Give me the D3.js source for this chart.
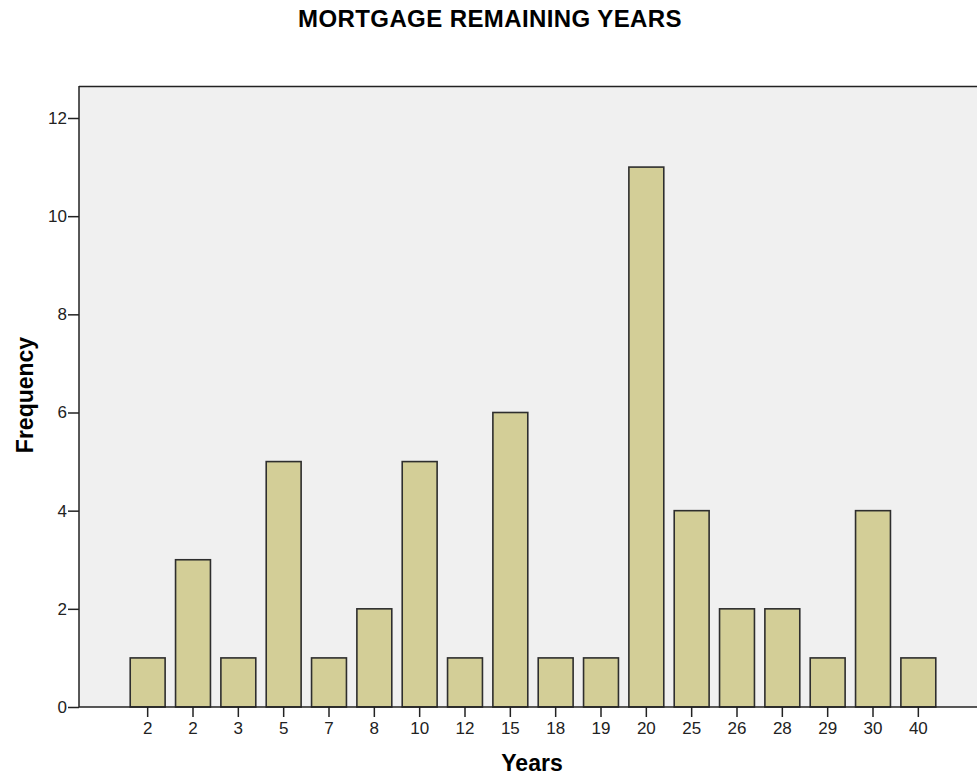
<!DOCTYPE html>
<html>
<head>
<meta charset="utf-8">
<script src="https://cdn.jsdelivr.net/npm/d3@7"></script>
<style>
  body { margin: 0; background: #fff; }
  svg { display: block; font-family: "Liberation Sans", Arial, sans-serif; }
</style>
</head>
<body>
<div class="chart"></div>
<script>
// data
const categories = ['2', '2 ', '3', '5', '7', '8', '10', '12', '15', '18', '19', '20', '25', '26', '28', '29', '30', '40'];
const frequencies = [1, 3, 1, 5, 1, 2, 5, 1, 6, 1, 1, 11, 4, 2, 2, 1, 4, 1];
const yTicks = [0, 2, 4, 6, 8, 10, 12];

const width = 977, height = 777;
const plot = { left: 79, top: 86, right: 977, bottom: 707 };

const svg = d3.select('.chart')
  .append('svg')
  .attr('width', width)
  .attr('height', height);

// scales
const x = d3.scaleBand()
  .domain(d3.range(categories.length))
  .range([125, 941])
  .paddingInner(0.23)
  .paddingOuter(0.115);
const y = d3.scaleLinear().domain([0, 12]).range([plot.bottom, 118]);

// plot background
svg.append('rect')
  .attr('x', plot.left)
  .attr('y', plot.top)
  .attr('width', plot.right - plot.left)
  .attr('height', plot.bottom - plot.top)
  .attr('fill', '#f0f0f0');

svg.append('line')
  .attr('x1', plot.left).attr('x2', plot.right)
  .attr('y1', plot.top + 0.5).attr('y2', plot.top + 0.5)
  .attr('stroke', '#222').attr('stroke-width', 1.5);

// bars
svg.append('g')
  .selectAll('rect')
  .data(frequencies)
  .enter()
  .append('rect')
  .attr('x', (d, i) => x(i))
  .attr('y', d => y(d))
  .attr('width', x.bandwidth())
  .attr('height', d => y(0) - y(d))
  .attr('fill', '#d3ce97')
  .attr('stroke', '#2e2e2e')
  .attr('stroke-width', 1.6);

// y axis
const yAxis = svg.append('g')
  .attr('transform', 'translate(' + plot.left + ',0)')
  .call(d3.axisLeft(y).tickValues(yTicks).tickSize(11).tickPadding(1));
yAxis.select('.domain').remove();
yAxis.append('line')
  .attr('y1', plot.top).attr('y2', plot.bottom)
  .attr('stroke', '#222').attr('stroke-width', 1.5);

// x axis
const xAxis = svg.append('g')
  .attr('transform', 'translate(0,' + plot.bottom + ')')
  .call(d3.axisBottom(x).tickFormat(i => categories[i].trim()).tickSize(10).tickPadding(5));
xAxis.select('.domain').remove();
xAxis.append('line')
  .attr('x1', plot.left).attr('x2', plot.right)
  .attr('stroke', '#222').attr('stroke-width', 1.5);

[yAxis, xAxis].forEach(g => {
  g.attr('font-size', null).attr('font-family', null);
  g.selectAll('.tick line').attr('stroke', '#222').attr('stroke-width', 1.5);
  g.selectAll('.tick text')
    .attr('fill', '#222')
    .style('font-size', '17px');
});

// titles
svg.append('text')
  .attr('x', 490)
  .attr('y', 27)
  .attr('text-anchor', 'middle')
  .style('font-size', '24px')
  .style('font-weight', 'bold')
  .style('letter-spacing', '0.4px')
  .text('MORTGAGE REMAINING YEARS');

svg.append('text')
  .attr('x', 532)
  .attr('y', 771)
  .attr('text-anchor', 'middle')
  .style('font-size', '23px')
  .style('font-weight', 'bold')
  .text('Years');

svg.append('text')
  .attr('transform', 'translate(33,395) rotate(-90)')
  .attr('text-anchor', 'middle')
  .style('font-size', '23px')
  .style('font-weight', 'bold')
  .text('Frequency');
</script>
</body>
</html>
